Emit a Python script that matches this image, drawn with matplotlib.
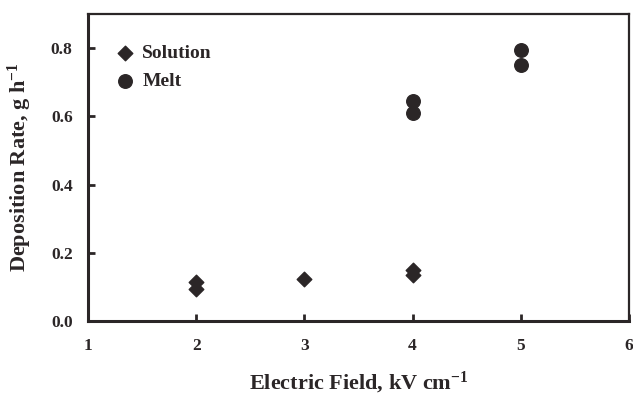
import matplotlib
matplotlib.use("Agg")
import matplotlib.pyplot as plt

# data
sol_x = [2, 2, 3, 4, 4]
sol_y = [0.094, 0.113, 0.123, 0.135, 0.150]
melt_x = [4, 4, 5, 5]
melt_y = [0.611, 0.645, 0.750, 0.794]

xticks = [1, 2, 3, 4, 5, 6]
yticks = [0.0, 0.2, 0.4, 0.6, 0.8]

ink = "#2b2627"
plt.rcParams["font.family"] = ["Liberation Serif", "DejaVu Serif"]
plt.rcParams["font.weight"] = "bold"
plt.rcParams["mathtext.fontset"] = "custom"
plt.rcParams["mathtext.rm"] = "Liberation Serif:bold"
plt.rcParams["mathtext.bf"] = "Liberation Serif:bold"
plt.rcParams["mathtext.it"] = "Liberation Serif:bold"

fig = plt.figure(figsize=(6.33, 3.97), dpi=100)
ax = fig.add_axes([88 / 633, 1 - 321 / 397, (629 - 88) / 633, (321 - 14) / 397])

ax.scatter(sol_x, sol_y, marker="D", s=55, color=ink, label="Solution", zorder=3)
ax.scatter(melt_x, melt_y, marker="o", s=95, color=ink, label="Melt", zorder=3)

ax.set_xlim(1, 6)
ax.set_ylim(0, 0.9)
ax.set_xticks(xticks)
ax.set_yticks(yticks)
ax.set_xticklabels([str(t) for t in xticks])
ax.set_yticklabels([f"{t:.1f}" for t in yticks])
ax.tick_params(direction="in", length=5, width=2, colors=ink, labelsize=12.5)
ax.tick_params(axis="y", pad=11)
ax.tick_params(axis="x", pad=12)
for lab in ax.get_xticklabels() + ax.get_yticklabels():
    lab.set_fontweight("bold")
    lab.set_color(ink)

for sp in ax.spines.values():
    sp.set_color(ink)
ax.spines["left"].set_linewidth(2.2)
ax.spines["bottom"].set_linewidth(2.2)
ax.spines["top"].set_linewidth(1.6)
ax.spines["right"].set_linewidth(1.6)

ax.set_xlabel("Electric Field, kV cm$^{\\mathrm{-1}}$", fontsize=16, fontweight="bold",
              color=ink, labelpad=12)
ax.set_ylabel("Deposition Rate, g h$^{\\mathrm{-1}}$", fontsize=16, fontweight="bold",
              color=ink, labelpad=12)

leg = ax.legend(loc="upper left", frameon=False, fontsize=14, handlelength=1.0,
                handletextpad=0.4, borderpad=0, borderaxespad=0,
                bbox_to_anchor=(0.05, 0.90), labelspacing=0.5)
for t in leg.get_texts():
    t.set_color(ink)

fig.savefig("out.png", dpi=100)
